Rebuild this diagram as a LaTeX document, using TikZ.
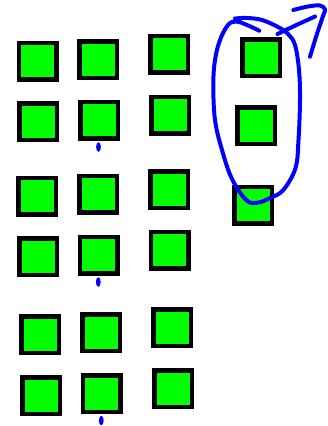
\documentclass[tikz,border=0pt]{standalone}
\usetikzlibrary{shapes.geometric}
\begin{document}
\begin{tikzpicture}[x=1pt,y=-1pt,
  box/.style={draw=black,fill=green,line width=4.5pt,inner sep=0pt,outer sep=0pt,minimum width=37.5pt,minimum height=36.5pt},
  pen/.style={draw=blue,line width=4pt,line cap=round,line join=round},
  dot/.style={fill=blue,ellipse,inner sep=0pt,minimum width=4.8pt,minimum height=9.5pt}]
\useasboundingbox (0,0) rectangle (327,426);
% column 1
\node[box] (a1) at (37.5,61.3) {};
\node[box] (a2) at (38.3,121.5) {};
\node[box] (a3) at (37.2,196.2) {};
\node[box] (a4) at (38.2,256.7) {};
\node[box] (a5) at (40.3,334.5) {};
\node[box] (a6) at (41,395.5) {};
% column 2
\node[box] (b1) at (98.2,59.5) {};
\node[box] (b2) at (99,120) {};
\node[box] (b3) at (98,194) {};
\node[box] (b4) at (98.9,255.2) {};
\node[box] (b5) at (101,332.7) {};
\node[box] (b6) at (101.8,393.7) {};
% column 3
\node[box] (c1) at (169,54.4) {};
\node[box] (c2) at (170,115.4) {};
\node[box] (c3) at (169,189.5) {};
\node[box] (c4) at (169.7,250.2) {};
\node[box] (c5) at (172,327.7) {};
\node[box] (c6) at (173,388.7) {};
% column 4
\node[box] (d1) at (261,57.8) {};
\node[box] (d2) at (256.3,125.7) {};
\node[box] (d3) at (253,205.2) {};
% dots
\node[dot] (p1) at (98.5,147) {};
\node[dot] (p2) at (98.3,282) {};
\node[dot] (p3) at (101.3,420.5) {};
% loop
\draw[pen] plot[smooth,tension=0.6] coordinates {(259.3,30.7) (247,25) (236,21.5) (228,25) (220,40) (215,60) (213.3,85) (215,120) (222,150) (232,179) (246.7,200.5) (258.3,202.5) (270,198) (283.3,190) (295.5,168) (298.5,140) (300,100) (299,70) (295,45) (288,34) (278,27) (262,20) (247,18) (235,18.5)};
% arrow
\draw[pen] plot[smooth,tension=0.6] coordinates {(277.5,34) (290,28) (303,22) (315,16.5)};
\draw[pen] plot[smooth,tension=0.6] coordinates {(293.3,10) (308,6.5) (320,5.5) (325,9.5) (323,16) (316,37) (310,56.7)};
\end{tikzpicture}
\end{document}
